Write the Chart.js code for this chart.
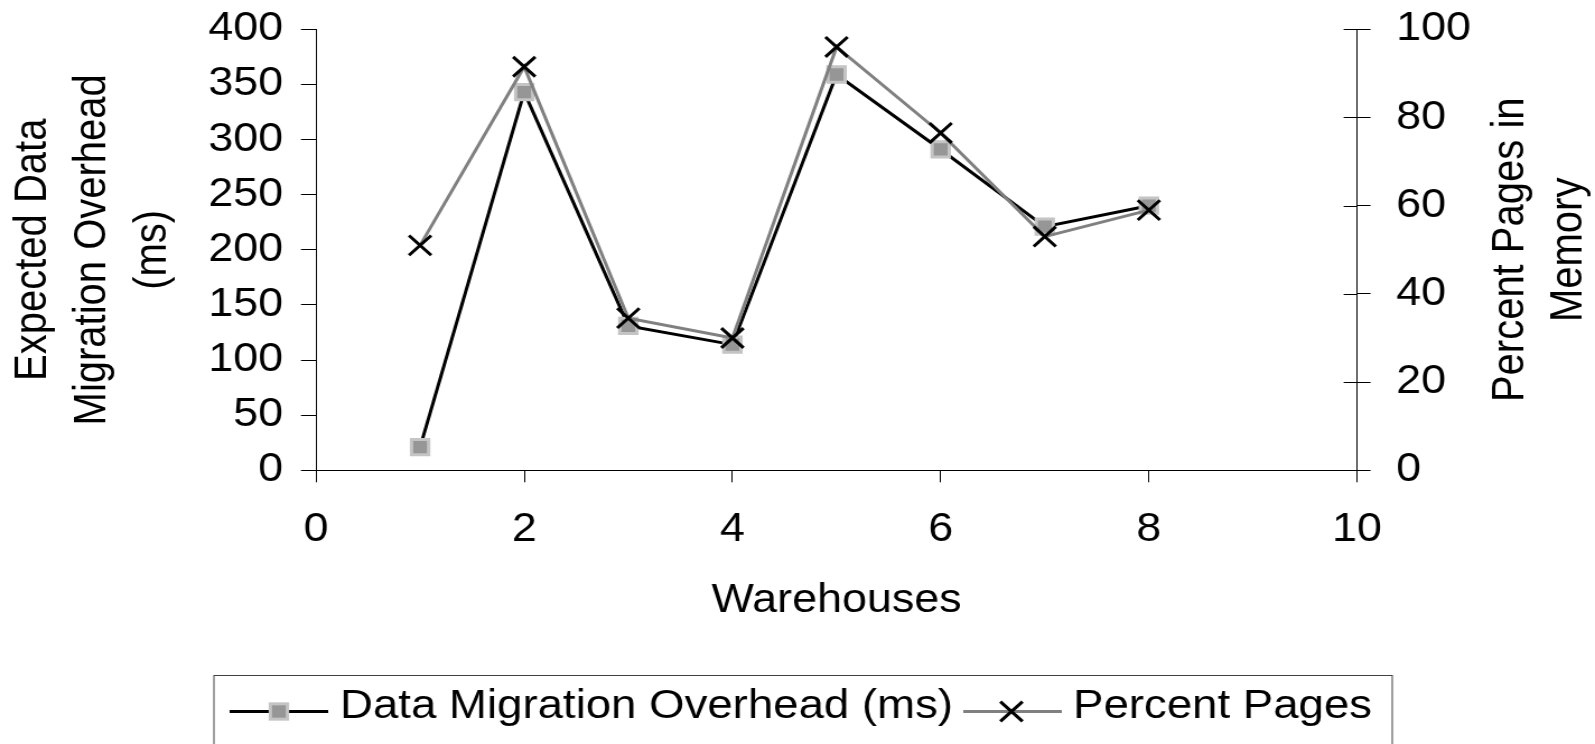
<!DOCTYPE html>
<html><head><meta charset="utf-8">
<script src="https://cdn.jsdelivr.net/npm/chart.js@4.4.1/dist/chart.umd.min.js"></script>
<style>
html,body{margin:0;padding:0;background:#fff;overflow:hidden;}
#wrap{position:absolute;left:0;top:0;width:1424px;height:744px;transform:scaleX(1.12008);transform-origin:0 0;}
</style></head><body>
<div id="wrap"><canvas id="c"></canvas></div>
<script>
// ---- data ----
const warehouses = [1, 2, 3, 4, 5, 6, 7, 8];
const migrationOverheadMs = [21, 343, 131, 114, 359, 291, 221, 240];
const percentPagesInMemory = [51, 91.5, 34.5, 30, 96, 76.5, 53, 59];
const xTickValues = [0, 2, 4, 6, 8, 10];
const leftTickValues = [0, 50, 100, 150, 200, 250, 300, 350, 400];
const rightTickValues = [0, 20, 40, 60, 80, 100];
const seriesNames = ['Data Migration Overhead (ms)', 'Percent Pages'];
const xTitle = 'Warehouses';
const leftTitle = ['Expected Data', 'Migration Overhead', '(ms)'];
const rightTitle = ['Percent Pages in', 'Memory'];

const FAM = "'Liberation Sans', Arial, sans-serif";
const font40 = {family: FAM, size: 40};

function pts(ys) { return warehouses.map((w, i) => ({x: w, y: ys[i]})); }

const decor = {
  id: 'decor',
  afterDraw(chart) {
    const ctx = chart.ctx, ca = chart.chartArea, y2 = chart.scales.y2;
    ctx.save();
    // inner half of the right axis ticks (they cross the axis)
    ctx.strokeStyle = '#000'; ctx.lineWidth = 1;
    y2.ticks.forEach(t => {
      const py = Math.round(y2.getPixelForValue(t.value)) + 0.5;
      ctx.beginPath(); ctx.moveTo(ca.right - 12, py); ctx.lineTo(ca.right, py); ctx.stroke();
    });
    // right axis title (reads bottom to top)
    ctx.fillStyle = '#000';
    ctx.font = '40px ' + FAM;
    ctx.textAlign = 'center'; ctx.textBaseline = 'middle';
    const cy = (ca.top + ca.bottom) / 2;
    rightTitle.forEach((line, i) => {
      ctx.save();
      ctx.translate(ca.right + 137 + i * 52.1, cy);
      ctx.rotate(-Math.PI / 2);
      ctx.fillText(line, 0, 0);
      ctx.restore();
    });
    // legend box
    ctx.strokeStyle = '#404040'; ctx.lineWidth = 1;
    ctx.strokeRect(191, 675.5, 1243 - 191, 120);
    const ly = 711.5, ty = 706.7;
    // item 1
    ctx.strokeStyle = '#000'; ctx.lineWidth = 3;
    ctx.beginPath(); ctx.moveTo(205, ly); ctx.lineTo(293, ly); ctx.stroke();
    ctx.fillStyle = '#969696';
    ctx.fillRect(249 - 7.65, ly - 7.65, 15.3, 15.3);
    ctx.strokeStyle = '#c4c4c4'; ctx.lineWidth = 3;
    ctx.strokeRect(249 - 7.65, ly - 7.65, 15.3, 15.3);
    // item 2
    ctx.strokeStyle = '#808080'; ctx.lineWidth = 3;
    ctx.beginPath(); ctx.moveTo(860, ly); ctx.lineTo(948, ly); ctx.stroke();
    ctx.strokeStyle = '#000'; ctx.lineWidth = 3;
    const d = 9.9, mx = 903;
    ctx.beginPath();
    ctx.moveTo(mx - d, ly - d); ctx.lineTo(mx + d, ly + d);
    ctx.moveTo(mx - d, ly + d); ctx.lineTo(mx + d, ly - d);
    ctx.stroke();
    ctx.fillStyle = '#000'; ctx.textAlign = 'left'; ctx.textBaseline = 'middle';
    ctx.font = '40.7px ' + FAM;
    ctx.fillText(seriesNames[0], 303.6, ty);
    ctx.fillText(seriesNames[1], 958, ty);
    ctx.restore();
  }
};

function noPad(s) { s.paddingTop = 0; s.paddingBottom = 0; }

new Chart(document.getElementById('c'), {
  type: 'line',
  data: {
    datasets: [
      {
        label: seriesNames[0], data: pts(migrationOverheadMs), yAxisID: 'y', order: 1,
        borderColor: '#000', borderWidth: 3, tension: 0,
        pointStyle: 'rect', pointRadius: 10.8, pointHoverRadius: 10.8,
        pointBackgroundColor: '#969696', pointBorderColor: '#c4c4c4', pointBorderWidth: 3
      },
      {
        label: seriesNames[1], data: pts(percentPagesInMemory), yAxisID: 'y2', order: 0,
        borderColor: '#808080', borderWidth: 3, tension: 0,
        pointStyle: 'crossRot', pointRadius: 14, pointHoverRadius: 14,
        pointBackgroundColor: '#000', pointBorderColor: '#000', pointBorderWidth: 3
      }
    ]
  },
  options: {
    responsive: true, maintainAspectRatio: false, animation: false,
    layout: {padding: {top: 29.3, left: 0, right: 0, bottom: 0}},
    plugins: {legend: {display: false}, tooltip: {enabled: false}},
    scales: {
      x: {
        type: 'linear', min: 0, max: 10,
        afterBuildTicks: s => { s.ticks = xTickValues.map(v => ({value: v})); },
        ticks: {font: font40, color: '#000', padding: 23.7, maxRotation: 0},
        grid: {drawOnChartArea: false, drawTicks: true, tickLength: 12, color: '#000'},
        border: {display: true, color: '#000', width: 1},
        title: {display: true, text: xTitle, font: font40, color: '#000', padding: {top: 0, bottom: 119}},
        afterFit: s => { s.height = 744 - 470.3; s.paddingLeft = 0; s.paddingRight = 0; }
      },
      y: {
        type: 'linear', position: 'left', min: 0, max: 400,
        afterBuildTicks: s => { s.ticks = leftTickValues.map(v => ({value: v})); },
        ticks: {font: font40, color: '#000', padding: 16},
        grid: {drawOnChartArea: false, drawTicks: true, tickLength: 13.4, color: '#000'},
        border: {display: true, color: '#000', width: 1},
        title: {display: true, text: leftTitle, font: {family: FAM, size: 40, lineHeight: 1.33}, color: '#000', padding: {top: 3.5, bottom: 0}},
        afterFit: s => { s.width = 282.1; noPad(s); }
      },
      y2: {
        type: 'linear', position: 'right', min: 0, max: 100,
        afterBuildTicks: s => { s.ticks = rightTickValues.map(v => ({value: v})); },
        ticks: {font: font40, color: '#000', padding: 22.8},
        grid: {drawOnChartArea: false, drawTicks: true, tickLength: 12, color: '#000'},
        border: {display: true, color: '#000', width: 1},
        afterFit: s => { s.width = 1424 - 1211.6; noPad(s); }
      }
    }
  },
  plugins: [decor]
});
</script>
</body></html>
